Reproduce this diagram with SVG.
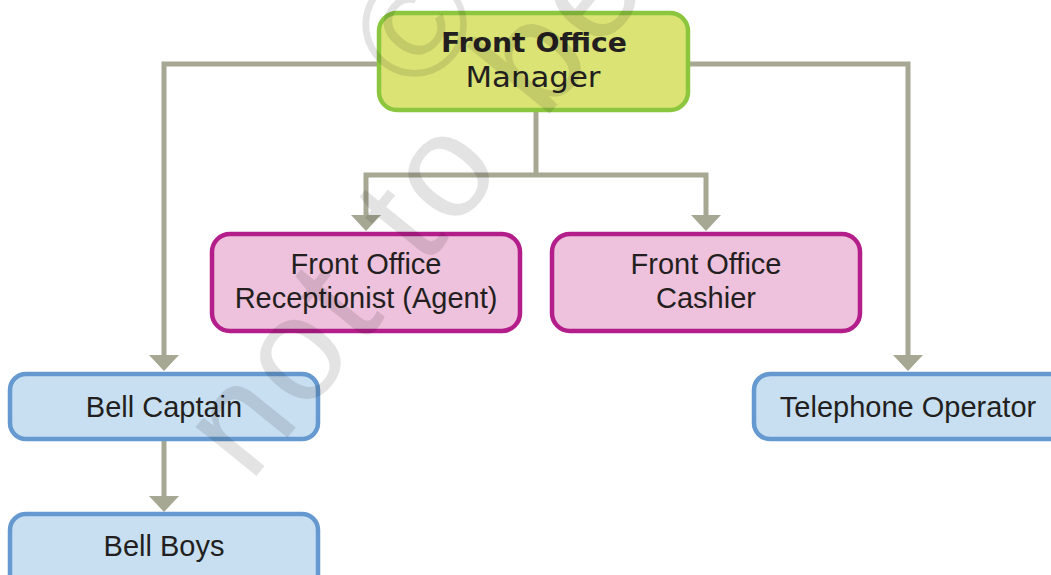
<svg xmlns="http://www.w3.org/2000/svg" width="1051" height="575" viewBox="0 0 1051 575">
<style>
.wm{font-family:"Liberation Sans",Arial,sans-serif;font-size:148px;fill:#000;fill-opacity:0.11}
.conn{fill:none;stroke:#a7a893;stroke-width:5}
.head{fill:#a7a893}
.mgr{fill:#dbe375;stroke:#8cc63f;stroke-width:4.5}
.pink{fill:#eec1dc;stroke:#b41e8b;stroke-width:4.5}
.blue{fill:#c8dff2;stroke:#6699cf;stroke-width:4.5}
.lbl{font-family:"Liberation Sans",Arial,sans-serif;font-size:29px;fill:#231f20;text-anchor:middle}
.mb{font-family:"DejaVu Sans",sans-serif;font-weight:bold;font-size:27px;fill:#231f20;text-anchor:middle}
.mr{font-family:"DejaVu Sans",sans-serif;font-size:28px;fill:#231f20;text-anchor:middle}
</style>
<rect width="1051" height="575" fill="#ffffff"/>
<g id="connectors">
<path class="conn" d="M378,64 H164 V356"/>
<path class="head" d="M149,355 L179,355 L164,371 Z"/>
<path class="conn" d="M689,64 H908 V356"/>
<path class="head" d="M893,355 L923,355 L908,371 Z"/>
<path class="conn" d="M536,110 V175 M366,175 H706 M366,172.5 V216 M706,172.5 V216"/>
<path class="head" d="M351,215 L381,215 L366,231 Z"/>
<path class="head" d="M691,215 L721,215 L706,231 Z"/>
<path class="conn" d="M164,440 V497"/>
<path class="head" d="M149,496 L179,496 L164,512 Z"/>
</g>
<g id="node-manager">
<rect class="mgr" x="379" y="13" width="309" height="97" rx="18"/>
<text class="mb" x="534" y="52" textLength="186" lengthAdjust="spacingAndGlyphs">Front Office</text>
<text class="mr" x="533" y="87" textLength="135" lengthAdjust="spacingAndGlyphs">Manager</text>
</g>
<g id="node-receptionist">
<rect class="pink" x="212" y="234" width="308" height="97" rx="18"/>
<text class="lbl" x="366" y="274">Front Office</text>
<text class="lbl" x="366" y="308">Receptionist (Agent)</text>
</g>
<g id="node-cashier">
<rect class="pink" x="552" y="234" width="308" height="97" rx="18"/>
<text class="lbl" x="706" y="274">Front Office</text>
<text class="lbl" x="706" y="308">Cashier</text>
</g>
<g id="node-bell-captain">
<rect class="blue" x="10" y="374" width="308" height="65" rx="16"/>
<text class="lbl" x="164" y="417">Bell Captain</text>
</g>
<g id="node-bell-boys">
<rect class="blue" x="10" y="514" width="308" height="80" rx="16"/>
<text class="lbl" x="164" y="556">Bell Boys</text>
</g>
<g id="node-telephone">
<rect class="blue" x="754" y="374" width="320" height="65" rx="16"/>
<text class="lbl" x="908" y="417">Telephone Operator</text>
</g>
<g id="watermark">
<text class="wm" transform="translate(250,484) rotate(-51)" letter-spacing="5" word-spacing="10">not to be</text>
<text class="wm" transform="translate(414,24) rotate(-51)" text-anchor="middle" dy="0.35em">©</text>
</g>
</svg>
